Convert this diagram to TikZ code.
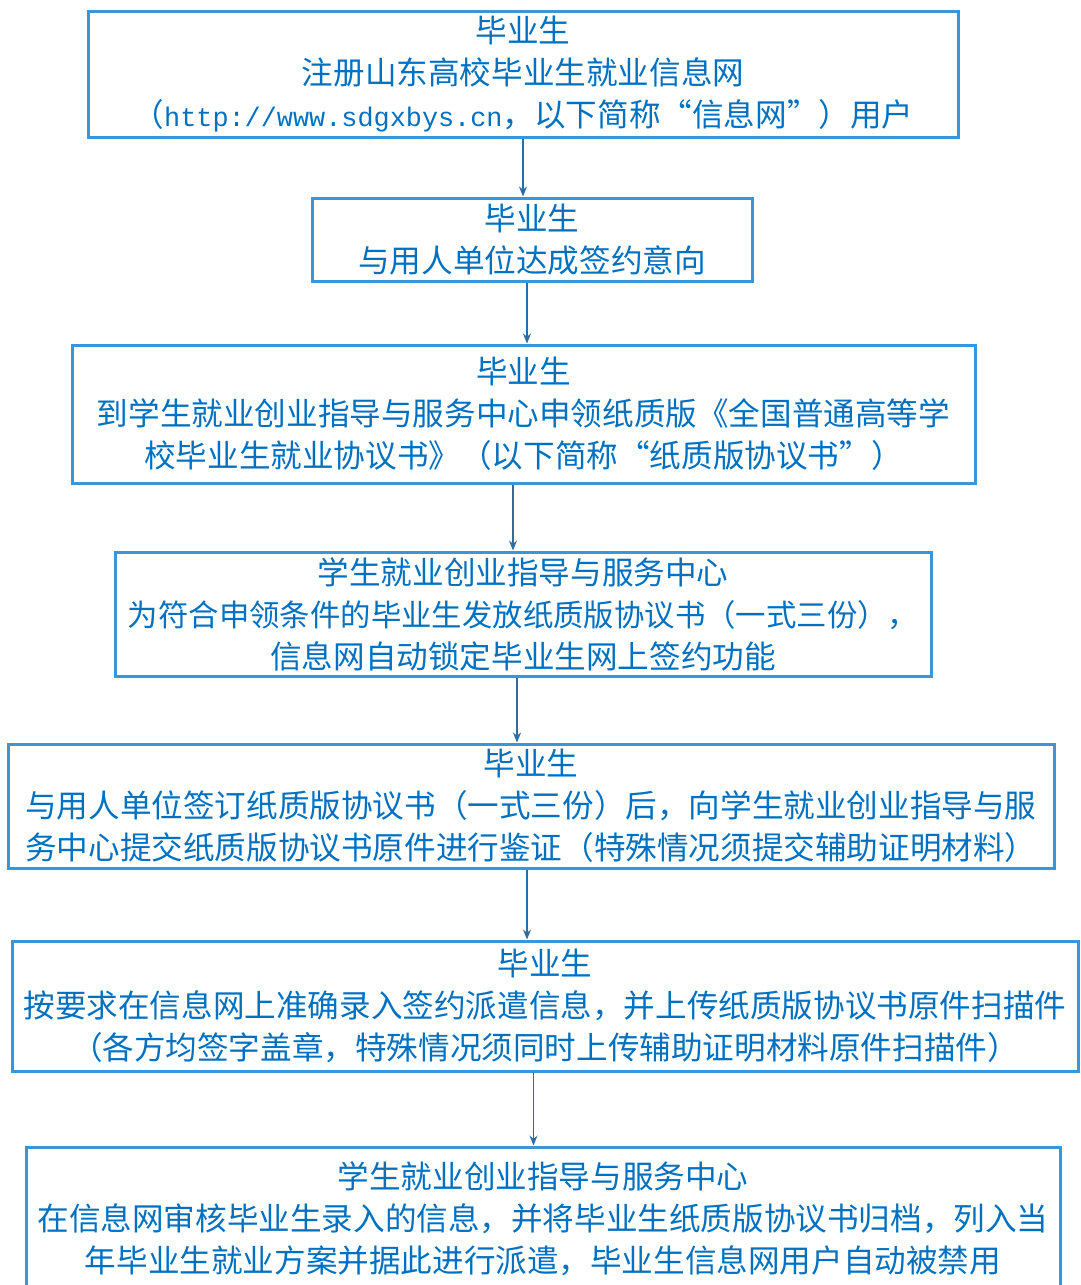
\documentclass[tikz,border=0pt]{standalone}
\usepackage{fontspec}
\setmainfont{Noto Sans CJK SC}
\newfontfamily\urlfont{Liberation Mono}[Scale=0.85]
\usetikzlibrary{arrows.meta}
\definecolor{boxline}{HTML}{3A96DA}
\definecolor{boxtext}{HTML}{0070C0}
\definecolor{arrowline}{HTML}{2E6DA4}

\begin{document}
\begin{tikzpicture}[x=1pt, y=-1pt,
    box/.style={draw=boxline, line width=3pt, rectangle, inner sep=0pt, align=center,
                text=boxtext, font=\fontsize{31.6}{42}\selectfont},
    arrow/.style={draw=arrowline, line width=1.3pt, -{Stealth[length=10pt, width=8pt]}}]
    \useasboundingbox (0,0) rectangle (1080,1285);
    \node[box, minimum width=870pt, minimum height=126pt] (Step1) at (523,74)
        {毕业生\\注册山东高校毕业生就业信息网\\（{\urlfont http://www.sdgxbys.cn}，以下简称“信息网”）用户};
    \node[box, minimum width=440pt, minimum height=83pt] (Step2) at (532,239.5)
        {毕业生\\与用人单位达成签约意向};
    \node[box, minimum width=903pt, minimum height=138pt] (Step3) at (523.5,414)
        {毕业生\\到学生就业创业指导与服务中心申领纸质版《全国普通高等学\\校毕业生就业协议书》（以下简称“纸质版协议书”）};
    \node[box, minimum width=816pt, minimum height=124pt] (Step4) at (523,614)
        {学生就业创业指导与服务中心\\{\fontsize{30.4}{42}\selectfont 为符合申领条件的毕业生发放纸质版协议书（一式三份），}\\信息网自动锁定毕业生网上签约功能};
    \node[box, minimum width=1046pt, minimum height=124pt] (Step5) at (531,806)
        {毕业生\\与用人单位签订纸质版协议书（一式三份）后，向学生就业创业指导与服\\务中心提交纸质版协议书原件进行鉴证（特殊情况须提交辅助证明材料）};
    \node[box, minimum width=1066pt, minimum height=130pt] (Step6) at (545,1006)
        {毕业生\\按要求在信息网上准确录入签约派遣信息，并上传纸质版协议书原件扫描件\\（各方均签字盖章，特殊情况须同时上传辅助证明材料原件扫描件）};
    \node[box, minimum width=1034pt, minimum height=143pt] (Step7) at (543,1218.5)
        {学生就业创业指导与服务中心\\在信息网审核毕业生录入的信息，并将毕业生纸质版协议书归档，列入当\\年毕业生就业方案并据此进行派遣，毕业生信息网用户自动被禁用};
    \draw[arrow] (Step1.south) -- (Step1.south |- Step2.north);
    \draw[arrow] ([xshift=-5pt]Step2.south) -- ([xshift=-5pt]Step2.south |- Step3.north);
    \draw[arrow] ([xshift=-10.5pt]Step3.south) -- ([xshift=-10.5pt]Step3.south |- Step4.north);
    \draw[arrow] ([xshift=-6pt]Step4.south) -- ([xshift=-6pt]Step4.south |- Step5.north);
    \draw[arrow] ([xshift=-4pt]Step5.south) -- ([xshift=-4pt]Step5.south |- Step6.north);
    \draw[arrow] ([xshift=-11.5pt]Step6.south) -- ([xshift=-11.5pt]Step6.south |- Step7.north);
\end{tikzpicture}
\end{document}
